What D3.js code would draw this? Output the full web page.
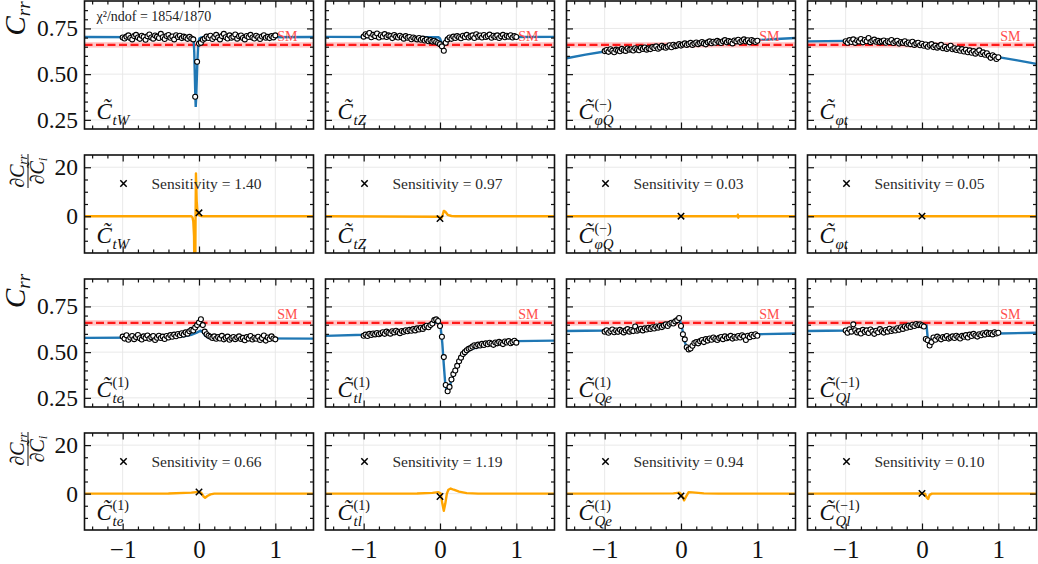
<!DOCTYPE html>
<html><head><meta charset="utf-8">
<script src="https://cdn.jsdelivr.net/npm/d3@7"></script>
<style>
body{margin:0;background:#fff;}
svg{display:block;font-family:"Liberation Serif","DejaVu Serif",serif;}
</style></head><body>
<svg id="c" width="1038" height="564"></svg>
<script>
// ---------------- DATA ----------------
const xs = [
-1.000,-0.975,-0.950,-0.925,-0.900,-0.875,-0.850,-0.825,-0.800,-0.775,
-0.750,-0.725,-0.700,-0.675,-0.650,-0.625,-0.600,-0.575,-0.550,-0.525,
-0.500,-0.475,-0.450,-0.425,-0.400,-0.375,-0.350,-0.325,-0.300,-0.275,
-0.250,-0.225,-0.200,-0.175,-0.150,-0.125,-0.100,-0.075,-0.050,-0.025,
0.000,0.025,0.050,0.075,0.100,0.125,0.150,0.175,0.200,0.225,
0.250,0.275,0.300,0.325,0.350,0.375,0.400,0.425,0.450,0.475,
0.500,0.525,0.550,0.575,0.600,0.625,0.650,0.675,0.700,0.725,
0.750,0.775,0.800,0.825,0.850,0.875,0.900,0.925,0.950,0.975,
1.000];

const ptsTW = [
0.700,0.695,0.705,0.712,0.698,0.690,0.708,0.715,0.700,0.693,
0.710,0.703,0.688,0.707,0.717,0.700,0.694,0.711,0.705,0.698,
0.720,0.702,0.692,0.709,0.714,0.699,0.706,0.690,0.713,0.703,
0.710,0.697,0.705,0.700,0.693,0.704,0.695,0.690,0.376,0.568,
0.667,0.672,0.688,0.695,0.705,0.698,0.710,0.692,0.703,0.715,
0.700,0.690,0.708,0.720,0.702,0.695,0.712,0.699,0.705,0.717,
0.694,0.707,0.711,0.698,0.690,0.709,0.703,0.715,0.700,0.695,
0.710,0.702,0.692,0.706,0.713,0.699,0.704,0.697,0.708,0.701,
0.712];
const ptsTZ = [
0.705,0.718,0.712,0.725,0.702,0.715,0.708,0.722,0.700,0.713,
0.706,0.719,0.703,0.712,0.708,0.697,0.714,0.705,0.700,0.710,
0.702,0.694,0.708,0.699,0.703,0.691,0.700,0.695,0.690,0.698,
0.688,0.694,0.684,0.690,0.680,0.686,0.678,0.683,0.676,0.670,
0.664,0.652,0.628,0.672,0.690,0.700,0.693,0.705,0.698,0.708,
0.702,0.696,0.710,0.703,0.715,0.700,0.707,0.712,0.698,0.718,
0.705,0.711,0.700,0.714,0.703,0.708,0.716,0.699,0.710,0.704,
0.712,0.698,0.707,0.715,0.702,0.710,0.705,0.713,0.700,0.708,
0.703];
const ptsPhiQ = [
0.626,0.632,0.622,0.636,0.628,0.620,0.634,0.630,0.625,0.638,
0.631,0.627,0.640,0.633,0.636,0.629,0.642,0.635,0.631,0.644,
0.638,0.646,0.634,0.641,0.637,0.648,0.643,0.652,0.639,0.646,
0.655,0.648,0.644,0.651,0.658,0.647,0.661,0.653,0.657,0.664,
0.656,0.662,0.668,0.659,0.665,0.671,0.660,0.667,0.673,0.664,
0.670,0.676,0.668,0.663,0.674,0.679,0.669,0.677,0.672,0.682,
0.675,0.670,0.680,0.686,0.674,0.681,0.677,0.668,0.684,0.679,
0.688,0.676,0.683,0.690,0.679,0.685,0.674,0.687,0.681,0.676,
0.683];
const ptsPhiT = [
0.680,0.672,0.686,0.676,0.690,0.671,0.684,0.678,0.692,0.674,
0.687,0.680,0.698,0.675,0.683,0.689,0.677,0.682,0.674,0.679,
0.684,0.672,0.680,0.676,0.687,0.670,0.678,0.683,0.667,0.676,
0.671,0.680,0.666,0.673,0.664,0.677,0.660,0.668,0.672,0.658,
0.666,0.655,0.662,0.650,0.659,0.664,0.648,0.656,0.645,0.653,
0.660,0.642,0.650,0.638,0.646,0.655,0.636,0.642,0.632,0.640,
0.628,0.637,0.624,0.633,0.620,0.630,0.617,0.626,0.612,0.622,
0.630,0.610,0.619,0.606,0.614,0.600,0.589,0.603,0.595,0.583,
0.592];
const ptsTE = [
0.585,0.574,0.592,0.568,0.580,0.588,0.571,0.583,0.594,0.576,
0.569,0.586,0.578,0.591,0.573,0.582,0.588,0.566,0.579,0.590,
0.577,0.585,0.572,0.588,0.580,0.593,0.584,0.596,0.587,0.599,
0.592,0.603,0.596,0.608,0.601,0.614,0.622,0.618,0.635,0.648,
0.662,0.680,0.648,0.612,0.598,0.590,0.584,0.578,0.586,0.573,
0.582,0.575,0.589,0.570,0.579,0.585,0.568,0.577,0.583,0.571,
0.580,0.586,0.572,0.578,0.565,0.582,0.574,0.588,0.569,0.579,
0.573,0.584,0.566,0.577,0.591,0.563,0.580,0.572,0.586,0.575,
0.570];
const ptsTL = [
0.590,0.596,0.588,0.600,0.594,0.602,0.597,0.605,0.598,0.603,
0.609,0.600,0.612,0.606,0.601,0.614,0.608,0.617,0.610,0.604,
0.616,0.611,0.620,0.614,0.622,0.617,0.626,0.619,0.630,0.624,
0.633,0.627,0.638,0.644,0.636,0.648,0.656,0.675,0.679,0.670,
0.643,0.584,0.473,0.320,0.286,0.310,0.350,0.380,0.400,0.425,
0.450,0.470,0.490,0.500,0.510,0.518,0.522,0.530,0.538,0.533,
0.541,0.536,0.545,0.539,0.548,0.543,0.551,0.546,0.540,0.553,
0.548,0.556,0.550,0.544,0.558,0.553,0.560,0.549,0.555,0.562,
0.552];
const ptsQE = [
0.612,0.620,0.606,0.616,0.624,0.609,0.618,0.611,0.622,0.614,
0.608,0.619,0.626,0.612,0.621,0.615,0.640,0.617,0.623,0.628,
0.619,0.630,0.624,0.633,0.627,0.636,0.629,0.640,0.634,0.643,
0.637,0.646,0.652,0.643,0.655,0.661,0.657,0.668,0.675,0.687,
0.643,0.598,0.570,0.527,0.515,0.520,0.535,0.550,0.555,0.548,
0.560,0.566,0.555,0.571,0.563,0.575,0.568,0.580,0.572,0.566,
0.578,0.583,0.571,0.586,0.576,0.581,0.589,0.574,0.584,0.579,
0.588,0.580,0.592,0.585,0.566,0.590,0.582,0.595,0.587,0.598,
0.590];
const ptsQL = [
0.618,0.606,0.625,0.612,0.652,0.620,0.608,0.615,0.602,0.622,
0.611,0.619,0.605,0.624,0.613,0.600,0.617,0.609,0.626,0.614,
0.607,0.621,0.612,0.628,0.616,0.624,0.618,0.631,0.622,0.636,
0.627,0.640,0.633,0.645,0.638,0.650,0.643,0.654,0.648,0.652,
0.646,0.640,0.572,0.565,0.536,0.555,0.580,0.568,0.585,0.576,
0.570,0.583,0.578,0.588,0.574,0.580,0.586,0.577,0.590,0.582,
0.575,0.589,0.584,0.593,0.580,0.596,0.588,0.600,0.591,0.585,
0.598,0.592,0.603,0.596,0.607,0.599,0.604,0.597,0.609,0.602,
0.606];

// fitted curves [x, Crr]
const fitTW = [[-1.5,0.703],[-0.1,0.701],[-0.085,0.698],[-0.07,0.685],[-0.062,0.62],[-0.055,0.50],[-0.048,0.38],[-0.043,0.32],[-0.038,0.36],[-0.03,0.46],[-0.02,0.58],[-0.01,0.665],[0.005,0.695],[0.03,0.701],[1.5,0.703]];
const fitTZ = [[-1.5,0.704],[-0.02,0.702],[0.0,0.695],[0.02,0.672],[0.035,0.645],[0.05,0.655],[0.07,0.688],[0.1,0.702],[1.5,0.704]];
const fitPhiQ = [[-1.5,0.587],[-1.25,0.607],[-1,0.624],[-0.75,0.636],[-0.5,0.645],[-0.25,0.653],[0,0.660],[0.25,0.667],[0.5,0.673],[0.75,0.680],[1,0.686],[1.25,0.692],[1.5,0.698]];
const fitPhiT = [[-1.5,0.679],[-1,0.682],[-0.5,0.681],[-0.25,0.676],[0,0.665],[0.25,0.65],[0.5,0.633],[0.75,0.614],[1,0.593],[1.25,0.575],[1.5,0.556]];
const fitTE = [[-1.5,0.578],[-0.5,0.58],[-0.2,0.586],[-0.1,0.594],[-0.03,0.607],[0.02,0.618],[0.05,0.608],[0.08,0.59],[0.12,0.58],[0.3,0.576],[1.5,0.574]];
const fitTL = [[-1.5,0.589],[-1,0.595],[-0.5,0.612],[-0.25,0.63],[-0.1,0.65],[-0.05,0.662],[-0.01,0.66],[0.01,0.63],[0.03,0.55],[0.05,0.43],[0.07,0.32],[0.09,0.285],[0.11,0.29],[0.15,0.345],[0.2,0.405],[0.3,0.48],[0.4,0.515],[0.6,0.54],[0.8,0.553],[1,0.56],[1.5,0.563]];
const fitQE = [[-1.5,0.616],[-1,0.618],[-0.5,0.628],[-0.2,0.645],[-0.05,0.665],[-0.01,0.668],[0.02,0.62],[0.05,0.555],[0.08,0.522],[0.11,0.518],[0.15,0.533],[0.25,0.56],[0.5,0.578],[1,0.598],[1.5,0.602]];
const fitQL = [[-1.5,0.616],[-1,0.618],[-0.5,0.625],[-0.1,0.64],[0.06,0.645],[0.075,0.575],[0.1,0.568],[0.3,0.578],[0.6,0.59],[1,0.602],[1.5,0.606]];

// derivative curves [x, dCrr/dCi]
const derTW = [[-1.5,0],[-0.1,0],[-0.085,-0.5],[-0.075,-2],[-0.065,-8],[-0.058,-30],[-0.05,-30],[-0.045,0],[-0.04,17.5],[-0.035,12],[-0.03,6],[-0.02,2],[-0.01,0.8],[0.005,0.3],[0.02,0.1],[0.05,0],[1.5,0]];
const derTZ = [[-1.5,0],[-0.01,-0.2],[0.015,-1.0],[0.03,0],[0.05,2.2],[0.07,1.8],[0.1,0.6],[0.15,0.1],[0.2,0],[1.5,0]];
const derPhiQ = [[-1.5,0],[0.74,0],[0.745,0.6],[0.75,-0.6],[0.755,0],[1.5,0]];
const derPhiT = [[-1.5,0],[0,0],[1.5,0]];
const derTE = [[-1.5,0],[-0.4,0.05],[-0.1,0.4],[0,0.7],[0.03,0.3],[0.06,-1.2],[0.08,-1.7],[0.11,-1],[0.15,-0.3],[0.2,0],[1.5,0]];
const derTL = [[-1.5,0],[-0.3,0.05],[-0.1,0.3],[-0.02,0.6],[0.01,0],[0.03,-4],[0.05,-7.1],[0.07,-4],[0.09,0],[0.11,1.6],[0.14,2.1],[0.18,1.6],[0.25,0.8],[0.35,0.2],[0.5,0],[1.5,0]];
const derQE = [[-1.5,0],[-0.1,0.1],[-0.02,0.4],[0.01,-0.5],[0.04,-2.8],[0.07,-1],[0.1,0.6],[0.15,0.5],[0.3,0.1],[0.5,0],[1.5,0]];
const derQL = [[-1.5,0],[0,0.1],[0.04,0],[0.06,-1.5],[0.08,-2.2],[0.1,-0.5],[0.13,0],[1.5,0]];

const sensValues = [1.40, -0.97, 0.03, 0.05, 0.66, -1.19, -0.94, 0.10];
const sensLabels = ["1.40","0.97","0.03","0.05","0.66","1.19","0.94","0.10"];
const labelSubs = ["tW","tZ","φQ","φt","te","tl","Qe","Ql"];
const labelSups = ["","","(−)","","(1)","(1)","(1)","(−1)"];
const smValue = 0.66, smBand = 0.015;
const chi2Text = "χ²/ndof = 1854/1870";

const xMajor = [-1,0,1];
const xMinor = [-1.4,-1.2,-0.8,-0.6,-0.4,-0.2,0.2,0.4,0.6,0.8,1.2,1.4];
const crrMajor = [0.25,0.5,0.75];
const crrMinor = [0.3,0.35,0.4,0.45,0.55,0.6,0.65,0.7,0.8,0.85];
const derMajor = [0,20];
const derMinor = [-10,-5,5,10,15];

const ptsAll = [ptsTW,ptsTZ,ptsPhiQ,ptsPhiT,ptsTE,ptsTL,ptsQE,ptsQL];
const fitAll = [fitTW,fitTZ,fitPhiQ,fitPhiT,fitTE,fitTL,fitQE,fitQL];
const derAll = [derTW,derTZ,derPhiQ,derPhiT,derTE,derTL,derQE,derQL];

// ---------------- LAYOUT ----------------
const svg = d3.select("#c");
const colLefts = [84.5, 325.5, 566.5, 807.5], PW = 229;
const rowTops = [1, 155, 279, 433], rowHs = [128, 98, 128, 97];
const BLUE = "#1f77b4", ORANGE = "#ffa500";
let clipId = 0;

function grid(g, x, y, yMaj, top, h, left) {
  const gg = g.append("g");
  xMajor.forEach(v => gg.append("line").attr("x1", x(v)).attr("x2", x(v)).attr("y1", top).attr("y2", top + h)
    .attr("stroke", "#e6e6e6").attr("stroke-width", 0.9));
  yMaj.forEach(v => gg.append("line").attr("x1", left).attr("x2", left + PW).attr("y1", y(v)).attr("y2", y(v))
    .attr("stroke", "#e6e6e6").attr("stroke-width", 0.9));
}
function ticks(g, x, y, yMaj, yMin, showX, showY, yFmt, top, h, left) {
  const mk = (ax, vals, size, fmt, tr, pad, fs) => {
    const a = g.append("g").attr("transform", tr)
      .call(ax.tickValues(vals).tickSize(-size).tickPadding(pad).tickFormat(fmt));
    a.select(".domain").remove();
    a.selectAll("line").attr("stroke", "#111").attr("stroke-width", 1.2);
    a.selectAll("text").attr("fill", "#111").style("font-size", fs + "px").style("font-family", '"Liberation Serif",serif');
    return a;
  };
  const xf = showX ? d3.format("d") : () => "";
  const yf = showY ? yFmt : () => "";
  mk(d3.axisBottom(x), xMajor, 6.5, xf, `translate(0,${top + h})`, 10.5, 25);
  mk(d3.axisBottom(x), xMinor, 3.5, "", `translate(0,${top + h})`, 8, 20);
  mk(d3.axisTop(x), xMajor, 6.5, "", `translate(0,${top})`, 8, 20);
  mk(d3.axisTop(x), xMinor, 3.5, "", `translate(0,${top})`, 8, 20);
  mk(d3.axisLeft(y), yMaj, 6.5, yf, `translate(${left},0)`, 6.5, 23.5);
  mk(d3.axisLeft(y), yMin, 3.5, "", `translate(${left},0)`, 8, 20);
  mk(d3.axisRight(y), yMaj, 6.5, "", `translate(${left + PW},0)`, 8, 20);
  mk(d3.axisRight(y), yMin, 3.5, "", `translate(${left + PW},0)`, 8, 20);
  g.append("rect").attr("x", left).attr("y", top).attr("width", PW).attr("height", h)
    .attr("fill", "none").attr("stroke", "#111").attr("stroke-width", 1.6);
}
function clip(left, top, h) {
  const id = "cl" + (clipId++);
  svg.append("clipPath").attr("id", id).append("rect").attr("x", left).attr("y", top).attr("width", PW).attr("height", h);
  return `url(#${id})`;
}
function panelLabel(g, x, y, sup, sub) {
  const t = g.append("text").attr("fill", "#111");
  t.append("tspan").attr("x", x).attr("y", y).style("font-style", "italic").style("font-size", "23px").text("C\u0303");
  t.append("tspan").attr("x", x + 16).attr("y", y + 6).style("font-style", "italic").style("font-size", "15px").text(sub);
  if (sup) t.append("tspan").attr("x", x + 16).attr("y", y - 10.5).style("font-size", "14px").text(sup);
}
function xMark(g, cx, cy) {
  g.append("path").attr("d", `M${cx - 3.2},${cy - 3.2}L${cx + 3.2},${cy + 3.2}M${cx - 3.2},${cy + 3.2}L${cx + 3.2},${cy - 3.2}`)
    .attr("stroke", "#000").attr("stroke-width", 1.5);
}

for (let k = 0; k < 8; k++) {
  const c = k % 4, b = Math.floor(k / 4);
  const left = colLefts[c];
  const x = d3.scaleLinear().domain([-1.5, 1.5]).range([left, left + PW]);

  // ---- main panel
  {
    const top = rowTops[2 * b], h = rowHs[2 * b];
    const y = d3.scaleLinear().domain([0.2, 0.9]).range([top + h, top]);
    const g = svg.append("g");
    grid(g, x, y, crrMajor, top, h, left);
    const pg = g.append("g").attr("clip-path", clip(left, top, h));
    pg.append("rect").attr("x", left).attr("width", PW).attr("y", y(smValue + smBand))
      .attr("height", y(smValue - smBand) - y(smValue + smBand)).attr("fill", "red").attr("opacity", 0.22);
    pg.append("line").attr("x1", left).attr("x2", left + PW).attr("y1", y(smValue)).attr("y2", y(smValue))
      .attr("stroke", "#ff1a1a").attr("stroke-width", 2.4).attr("stroke-dasharray", "8,3.5");
    const line = d3.line().x(d => x(d[0])).y(d => y(d[1]));
    pg.append("path").attr("d", line(fitAll[k])).attr("fill", "none").attr("stroke", BLUE).attr("stroke-width", 2.4);
    pg.selectAll("circle.p").data(xs.map((v, i) => [v, ptsAll[k][i]])).enter().append("circle")
      .attr("cx", d => x(d[0])).attr("cy", d => y(d[1])).attr("r", 2.5)
      .attr("fill", "#fff").attr("stroke", "#000").attr("stroke-width", 1.1);
    g.append("text").attr("x", left + PW - 16).attr("y", y(smValue) - 4).attr("text-anchor", "end")
      .attr("fill", "#ff4d4d").style("font-size", "14px").text("SM");
    ticks(g, x, y, crrMajor, crrMinor, false, c === 0, d3.format(".2f"), top, h, left);
    panelLabel(g, left + 12, top + h - 10, labelSups[k], labelSubs[k]);
    if (k === 0) g.append("text").attr("x", left + 12).attr("y", top + 20).attr("fill", "#222")
      .style("font-size", "14px").text(chi2Text);
  }
  // ---- derivative panel
  {
    const top = rowTops[2 * b + 1], h = rowHs[2 * b + 1];
    const y = d3.scaleLinear().domain([-15, 25]).range([top + h, top]);
    const g = svg.append("g");
    grid(g, x, y, derMajor, top, h, left);
    const pg = g.append("g").attr("clip-path", clip(left, top, h));
    const line = d3.line().x(d => x(d[0])).y(d => y(d[1]));
    pg.append("path").attr("d", line(derAll[k])).attr("fill", "none").attr("stroke", ORANGE).attr("stroke-width", 2.4)
      .attr("stroke-linejoin", "round");
    xMark(g, x(0), y(sensValues[k]));
    xMark(g, left + 39, top + 28.5);
    g.append("text").attr("x", left + 67).attr("y", top + 34).attr("fill", "#2a2a2a")
      .style("font-size", "15.5px").text("Sensitivity = " + sensLabels[k]);
    ticks(g, x, y, derMajor, derMinor, b === 1, c === 0, d3.format("d"), top, h, left);
    panelLabel(g, left + 12, top + h - 10, labelSups[k], labelSubs[k]);
  }
}

// y-axis labels
[[0, 18.5], [2, 291]].forEach(([r, cy]) => {
  const t = svg.append("text").attr("transform", `translate(25,${cy}) rotate(-90)`)
    .attr("text-anchor", "middle").attr("fill", "#111");
  t.append("tspan").style("font-style", "italic").style("font-size", "29px").text("C");
  t.append("tspan").style("font-style", "italic").style("font-size", "19px").attr("dy", 5).text("rr");
});
[1, 3].forEach(r => {
  const g = svg.append("g").attr("transform", `translate(28,${rowTops[r] + 16}) rotate(-90)`).attr("fill", "#111");
  const n = g.append("text").attr("x", 0).attr("y", -4).attr("text-anchor", "middle").style("font-size", "20px");
  n.append("tspan").text("∂");
  n.append("tspan").style("font-style", "italic").text("C");
  n.append("tspan").style("font-style", "italic").style("font-size", "13px").attr("dy", 3).text("rr");
  g.append("line").attr("x1", -17).attr("x2", 17).attr("y1", 0).attr("y2", 0).attr("stroke", "#111").attr("stroke-width", 1);
  const dn = g.append("text").attr("x", 0).attr("y", 16).attr("text-anchor", "middle").style("font-size", "20px");
  dn.append("tspan").text("∂");
  dn.append("tspan").style("font-style", "italic").text("C\u0303");
  dn.append("tspan").style("font-style", "italic").style("font-size", "13px").attr("dy", 3).text("i");
});
</script>
</body></html>
